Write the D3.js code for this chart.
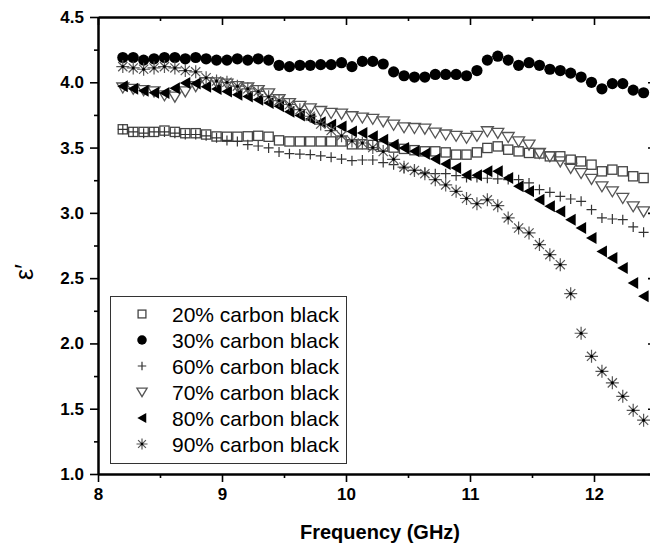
<!DOCTYPE html>
<html>
<head>
<meta charset="utf-8">
<script src="https://cdn.jsdelivr.net/npm/d3@7"></script>
<style>
  body { margin: 0; background: #fff; }
  svg { font-family: "Liberation Sans", Arial, sans-serif; }
</style>
</head>
<body>
<svg width="650" height="545"></svg>
<script>
const freq = [8.200, 8.284, 8.368, 8.452, 8.536, 8.620, 8.704, 8.788, 8.872, 8.956,
  9.040, 9.124, 9.208, 9.292, 9.376, 9.460, 9.544, 9.628, 9.712, 9.796,
  9.880, 9.964, 10.048, 10.132, 10.216, 10.300, 10.384, 10.468, 10.552, 10.636,
  10.720, 10.804, 10.888, 10.972, 11.056, 11.140, 11.224, 11.308, 11.392, 11.476,
  11.560, 11.644, 11.728, 11.812, 11.896, 11.980, 12.064, 12.148, 12.232, 12.316, 12.400];

const cb20 = [3.64, 3.62, 3.62, 3.62, 3.63, 3.62, 3.61, 3.61, 3.60, 3.585,
  3.583, 3.583, 3.586, 3.59, 3.583, 3.555, 3.547, 3.547, 3.547, 3.547,
  3.547, 3.547, 3.525, 3.525, 3.52, 3.51, 3.50, 3.49, 3.48, 3.471,
  3.471, 3.463, 3.446, 3.446, 3.463, 3.497, 3.509, 3.484, 3.471, 3.459,
  3.455, 3.433, 3.433, 3.407, 3.394, 3.369, 3.318, 3.331, 3.318, 3.28, 3.267];
const cb30 = [4.19, 4.19, 4.17, 4.18, 4.19, 4.19, 4.18, 4.19, 4.18, 4.17,
  4.17, 4.18, 4.17, 4.18, 4.17, 4.13, 4.12, 4.13, 4.13, 4.135,
  4.135, 4.15, 4.12, 4.16, 4.16, 4.14, 4.08, 4.05, 4.04, 4.04,
  4.06, 4.06, 4.06, 4.05, 4.09, 4.17, 4.20, 4.17, 4.13, 4.15,
  4.13, 4.10, 4.09, 4.07, 4.04, 4.00, 3.95, 3.99, 3.99, 3.94, 3.92];
const cb60 = [3.64, 3.62, 3.61, 3.62, 3.62, 3.61, 3.60, 3.60, 3.59, 3.575,
  3.555, 3.547, 3.522, 3.512, 3.497, 3.467, 3.453, 3.45, 3.446, 3.436,
  3.425, 3.412, 3.40, 3.405, 3.405, 3.385, 3.369, 3.344, 3.325, 3.31,
  3.30, 3.30, 3.285, 3.27, 3.27, 3.265, 3.26, 3.255, 3.254, 3.229,
  3.178, 3.157, 3.126, 3.106, 3.088, 3.024, 2.961, 2.953, 2.948, 2.892, 2.851];
const cb70 = [3.96, 3.95, 3.94, 3.93, 3.90, 3.89, 3.93, 3.97, 4.0, 4.0,
  3.99, 3.97, 3.96, 3.94, 3.915, 3.87, 3.84, 3.82, 3.80, 3.78,
  3.765, 3.76, 3.74, 3.73, 3.72, 3.70, 3.675, 3.655, 3.65, 3.645,
  3.615, 3.60, 3.59, 3.575, 3.59, 3.625, 3.612, 3.581, 3.548, 3.522,
  3.459, 3.433, 3.394, 3.344, 3.305, 3.26, 3.203, 3.165, 3.114, 3.05, 3.011];
const cb80 = [3.97, 3.95, 3.935, 3.92, 3.918, 3.955, 3.995, 3.99, 3.965, 3.949,
  3.93, 3.905, 3.892, 3.867, 3.842, 3.816, 3.775, 3.745, 3.719, 3.693,
  3.675, 3.662, 3.624, 3.612, 3.586, 3.56, 3.522, 3.497, 3.471, 3.452,
  3.413, 3.375, 3.344, 3.29, 3.288, 3.318, 3.318, 3.267, 3.203, 3.165,
  3.101, 3.05, 3.011, 2.948, 2.884, 2.808, 2.705, 2.655, 2.578, 2.463, 2.361];
const cb90 = [4.12, 4.11, 4.10, 4.11, 4.12, 4.11, 4.09, 4.08, 4.035, 4.01,
  4.0, 3.97, 3.95, 3.93, 3.89, 3.86, 3.83, 3.79, 3.74, 3.68,
  3.63, 3.59, 3.55, 3.535, 3.50, 3.47, 3.41, 3.35, 3.325, 3.30,
  3.254, 3.214, 3.165, 3.11, 3.07, 3.10, 3.055, 2.961, 2.884, 2.846,
  2.757, 2.68, 2.603, 2.381, 2.078, 1.901, 1.786, 1.698, 1.595, 1.488, 1.412];

const labels = ["20% carbon black", "30% carbon black", "60% carbon black",
  "70% carbon black", "80% carbon black", "90% carbon black"];
const shapes = ["square", "circle", "cross", "tridown", "trileft", "star"];
const values = [cb20, cb30, cb60, cb70, cb80, cb90];

const xTicks = [8, 9, 10, 11, 12];
const xMinor = [8.5, 9.5, 10.5, 11.5, 12.5];
const yTicks = [1.0, 1.5, 2.0, 2.5, 3.0, 3.5, 4.0, 4.5];
const yMinor = [1.25, 1.75, 2.25, 2.75, 3.25, 3.75, 4.25];

const svg = d3.select("svg"),
    mLeft = 98, mRight = 656, mTop = 17, mBottom = 474;

const x = d3.scaleLinear().domain([8, 12.5]).range([mLeft, mRight]);
const y = d3.scaleLinear().domain([1, 4.5]).range([mBottom, mTop]);

// draw one marker into g, s = scale
function marker(g, type, s) {
  if (type === "square") {
    g.append("rect").attr("x", -4.6 * s).attr("y", -4.6 * s)
      .attr("width", 9.2 * s).attr("height", 9.2 * s)
      .attr("fill", "none").attr("stroke", "#444").attr("stroke-width", 1.3);
  } else if (type === "circle") {
    g.append("circle").attr("r", 5.6 * s).attr("fill", "#000");
  } else if (type === "cross") {
    g.append("path").attr("d", `M${-5 * s},0H${5 * s}M0,${-5 * s}V${5 * s}`)
      .attr("stroke", "#333").attr("stroke-width", 1.2);
  } else if (type === "tridown") {
    g.append("path").attr("d", `M${-6 * s},${-4.5 * s}L${6 * s},${-4.5 * s}L0,${5.5 * s}Z`)
      .attr("fill", "none").attr("stroke", "#555").attr("stroke-width", 1.3);
  } else if (type === "trileft") {
    g.append("path").attr("d", `M${-5.5 * s},0L${5 * s},${-6 * s}L${5 * s},${6 * s}Z`)
      .attr("fill", "#000");
  } else if (type === "star") {
    const r = 6.5 * s, d = r * 0.707;
    g.append("path")
      .attr("d", `M${-r},0H${r}M0,${-r}V${r}M${-d},${-d}L${d},${d}M${-d},${d}L${d},${-d}`)
      .attr("stroke", "#555").attr("stroke-width", 1.2);
    g.append("circle").attr("r", 1.5 * s).attr("fill", "#000");
  }
}

svg.append("defs").append("clipPath").attr("id", "clip")
  .append("rect").attr("x", mLeft).attr("y", mTop)
  .attr("width", mRight - mLeft).attr("height", mBottom - mTop);

const plot = svg.append("g").attr("clip-path", "url(#clip)");

values.forEach((vals, k) => {
  plot.append("g")
    .selectAll("g")
    .data(vals.map((v, i) => ({f: freq[i], v})))
    .join("g")
    .attr("transform", d => `translate(${x(d.f)},${y(d.v)})`)
    .each(function() { marker(d3.select(this), shapes[k], 1); });
});

// axes
function styleAxis(g) {
  g.select(".domain").attr("stroke-width", 2);
  g.selectAll(".tick line").attr("stroke-width", 1.6);
}

function styleText(g) {
  g.selectAll("text").attr("font-size", 17).attr("font-weight", "bold").attr("fill", "#000")
    .attr("font-family", "Liberation Sans, Arial, sans-serif");
}

svg.append("g").attr("transform", `translate(0,${mBottom})`)
  .call(d3.axisBottom(x).tickValues(xMinor).tickSize(4).tickFormat("").tickSizeOuter(0))
  .call(styleAxis);
svg.append("g").attr("transform", `translate(0,${mBottom})`)
  .call(d3.axisBottom(x).tickValues(xTicks).tickSize(8).tickPadding(6).tickFormat(d3.format("d")).tickSizeOuter(0))
  .call(styleAxis)
  .call(styleText);

svg.append("g").attr("transform", `translate(0,${mTop})`)
  .call(d3.axisBottom(x).tickValues(xMinor).tickSize(4).tickFormat("").tickSizeOuter(0))
  .call(styleAxis);
svg.append("g").attr("transform", `translate(0,${mTop})`)
  .call(d3.axisBottom(x).tickValues(xTicks).tickSize(8).tickFormat("").tickSizeOuter(0))
  .call(styleAxis);

svg.append("g").attr("transform", `translate(${mLeft},0)`)
  .call(d3.axisLeft(y).tickValues(yMinor).tickSize(4).tickFormat("").tickSizeOuter(0))
  .call(styleAxis);
svg.append("g").attr("transform", `translate(${mLeft},0)`)
  .call(d3.axisLeft(y).tickValues(yTicks).tickSize(8).tickPadding(6).tickFormat(d3.format(".1f")).tickSizeOuter(0))
  .call(styleAxis)
  .call(styleText);

svg.append("g").attr("transform", `translate(${mRight},0)`)
  .call(d3.axisRight(y).tickValues(yMinor).tickSize(-4).tickFormat("").tickSizeOuter(0))
  .call(styleAxis);
svg.append("g").attr("transform", `translate(${mRight},0)`)
  .call(d3.axisRight(y).tickValues(yTicks).tickSize(-8).tickFormat("").tickSizeOuter(0))
  .call(styleAxis);

// axis titles
svg.append("text")
  .attr("x", 380)
  .attr("y", 539)
  .attr("text-anchor", "middle")
  .attr("font-size", 20)
  .attr("font-weight", "bold")
  .text("Frequency (GHz)");

svg.append("text")
  .attr("transform", "translate(33,272) rotate(-90)")
  .attr("text-anchor", "middle")
  .attr("font-size", 25)
  .text("ε′");

// Legend
const legend = svg.append("g");
legend.append("rect")
  .attr("x", 110.5).attr("y", 296.5)
  .attr("width", 236).attr("height", 167)
  .attr("fill", "#fff").attr("stroke", "#333").attr("stroke-width", 1);

const rows = legend.selectAll("g.row")
  .data(labels)
  .join("g")
  .attr("class", "row")
  .attr("transform", (d, i) => `translate(142,${314 + i * 26})`);

rows.each(function(d, i) { marker(d3.select(this), shapes[i], 0.85); });

rows.append("text")
  .attr("x", 30)
  .attr("y", 7.5)
  .attr("font-size", 21)
  .text(d => d);
</script>
</body>
</html>
